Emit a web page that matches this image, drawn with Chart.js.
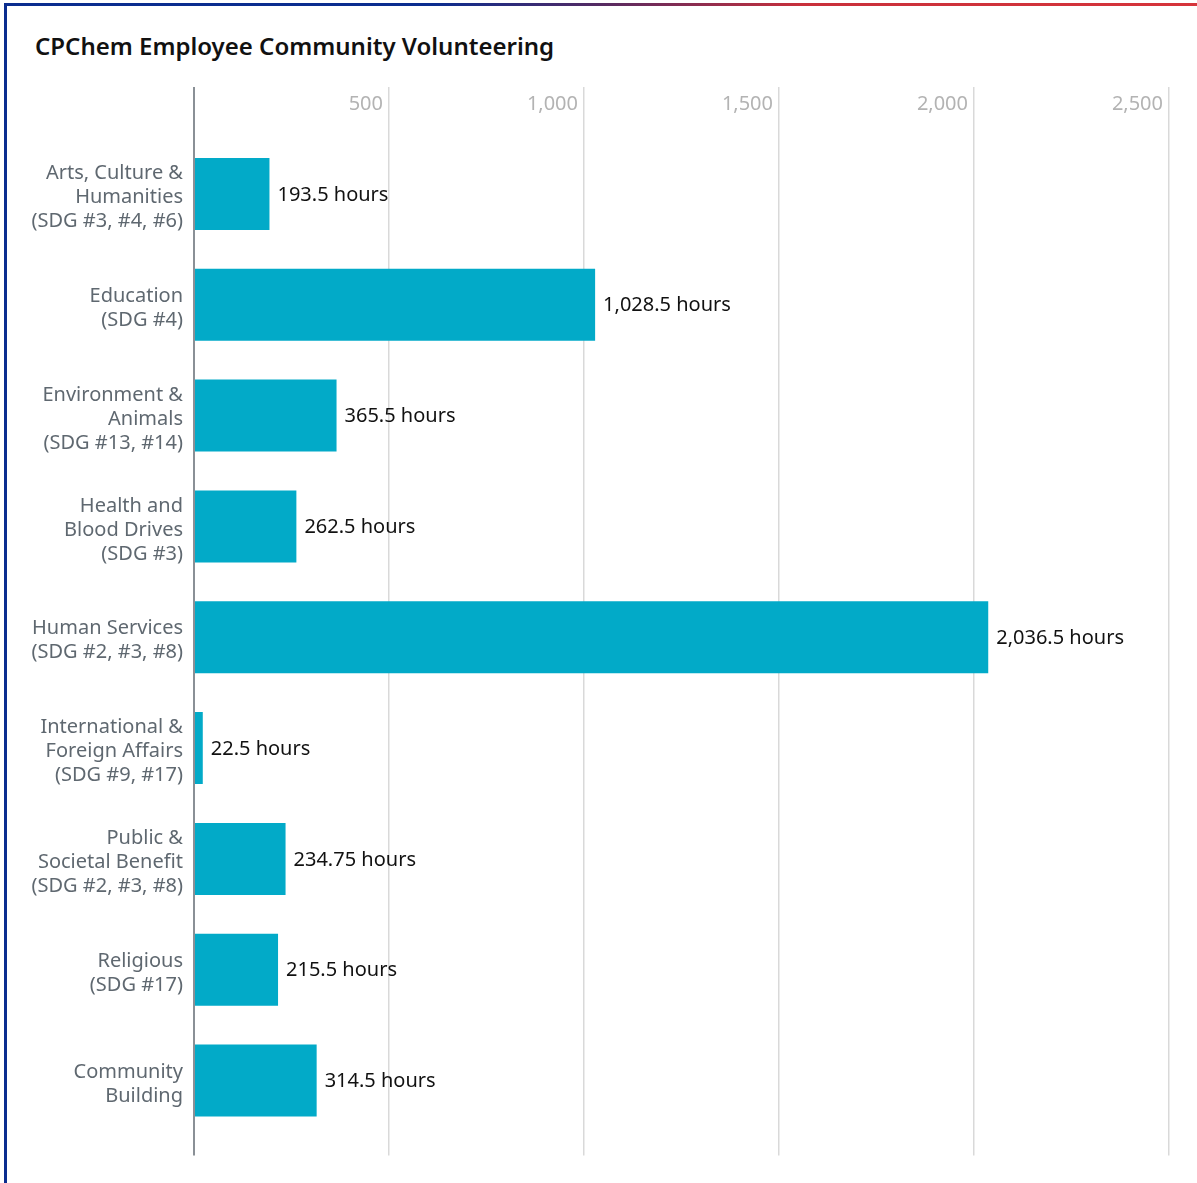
<!DOCTYPE html>
<html>
<head>
<meta charset="utf-8">
<script src="https://cdn.jsdelivr.net/npm/chart.js@4.4.1/dist/chart.umd.min.js"></script>
<style>
  html, body { margin: 0; padding: 0; background: #fff; }
  body { width: 1197px; height: 1183px; position: relative; overflow: hidden; font-family: "Noto Sans", sans-serif; }
  #topbar { position: absolute; left: 4px; top: 3px; width: 1193px; height: 3px;
    background: linear-gradient(90deg, #0b2d8f 0%, #0b2d8f 36%, #552a62 50%, #c9303b 67%, #d6343b 100%); }
  #leftbar { position: absolute; left: 4px; top: 3px; width: 3px; height: 1180px; background: #0b2d8f; }
  #title { position: absolute; left: 35px; top: 29px; font-size: 24px; line-height: normal; font-weight: 600; color: #111; white-space: nowrap; }
  #wrap { position: absolute; left: 0; top: 0; width: 1197px; height: 1183px; }
</style>
</head>
<body>
<div id="topbar"></div>
<div id="leftbar"></div>
<div id="title">CPChem Employee Community Volunteering</div>
<div id="wrap"><canvas id="c"></canvas></div>
<script>
const categories = [
  ["Arts, Culture &", "Humanities", "(SDG #3, #4, #6)"],
  ["Education", "(SDG #4)"],
  ["Environment &", "Animals", "(SDG #13, #14)"],
  ["Health and", "Blood Drives", "(SDG #3)"],
  ["Human Services", "(SDG #2, #3, #8)"],
  ["International &", "Foreign Affairs", "(SDG #9, #17)"],
  ["Public &", "Societal Benefit", "(SDG #2, #3, #8)"],
  ["Religious", "(SDG #17)"],
  ["Community", "Building"]
];
const hours = [193.5, 1028.5, 365.5, 262.5, 2036.5, 22.5, 234.75, 215.5, 314.5];
const valueLabels = ["193.5 hours", "1,028.5 hours", "365.5 hours", "262.5 hours", "2,036.5 hours", "22.5 hours", "234.75 hours", "215.5 hours", "314.5 hours"];
const xTicks = [0, 500, 1000, 1500, 2000, 2500];

const gridColor = ctx => (ctx.tick && ctx.tick.value === 0) ? '#8a9096' : '#d9d9d9';
const gridWidth = ctx => (ctx.tick && ctx.tick.value === 0) ? 2 : 1.5;

const valueLabelPlugin = {
  id: 'valueLabels',
  afterDatasetsDraw(chart) {
    const ctx = chart.ctx;
    const meta = chart.getDatasetMeta(0);
    ctx.save();
    ctx.font = '20px "Noto Sans"';
    ctx.fillStyle = '#111';
    ctx.textAlign = 'left';
    ctx.textBaseline = 'middle';
    meta.data.forEach((bar, i) => {
      ctx.fillText(valueLabels[i], bar.x + 8, bar.y + 1);
    });
    ctx.restore();
  }
};

new Chart(document.getElementById('c'), {
  type: 'bar',
  data: {
    labels: categories,
    datasets: [{
      data: hours,
      backgroundColor: '#02aac8',
      borderWidth: 0,
      barPercentage: 0.65,
      categoryPercentage: 1
    }]
  },
  options: {
    indexAxis: 'y',
    responsive: true,
    maintainAspectRatio: false,
    animation: false,
    layout: { padding: { top: 87, bottom: 26, left: 12, right: 28 } },
    plugins: { legend: { display: false }, tooltip: { enabled: false } },
    scales: {
      x: {
        position: 'top',
        min: 0, max: 2500,
        afterBuildTicks: s => { s.ticks = xTicks.map(v => ({ value: v })); },
        afterFit: s => { s.height = 51.5; },
        border: { display: false },
        grid: { color: gridColor, lineWidth: gridWidth, drawTicks: true, tickLength: 51.5 },
        ticks: {
          align: 'end',
          labelOffset: -6,
          padding: -29,
          maxRotation: 0,
          color: '#b3b3b3',
          font: { family: 'Noto Sans', size: 20, lineHeight: 1.2 },
          callback: v => v === 0 ? '' : v.toLocaleString('en-US')
        }
      },
      x2: {
        axis: 'x',
        position: 'bottom',
        min: 0, max: 2500,
        afterBuildTicks: s => { s.ticks = xTicks.map(v => ({ value: v })); },
        afterFit: s => { s.height = 19.5; },
        border: { display: false },
        grid: { color: gridColor, lineWidth: gridWidth, drawOnChartArea: false, drawTicks: true, tickLength: 19.5 },
        ticks: { display: false }
      },
      y: {
        afterFit: s => { s.width = 182; },
        border: { display: false },
        grid: { display: false, drawTicks: false },
        ticks: {
          padding: 11,
          labelOffset: 3.5,
          color: '#5f6870',
          font: { family: 'Noto Sans', size: 20, lineHeight: 1.2 }
        }
      }
    }
  },
  plugins: [valueLabelPlugin]
});
</script>
</body>
</html>
